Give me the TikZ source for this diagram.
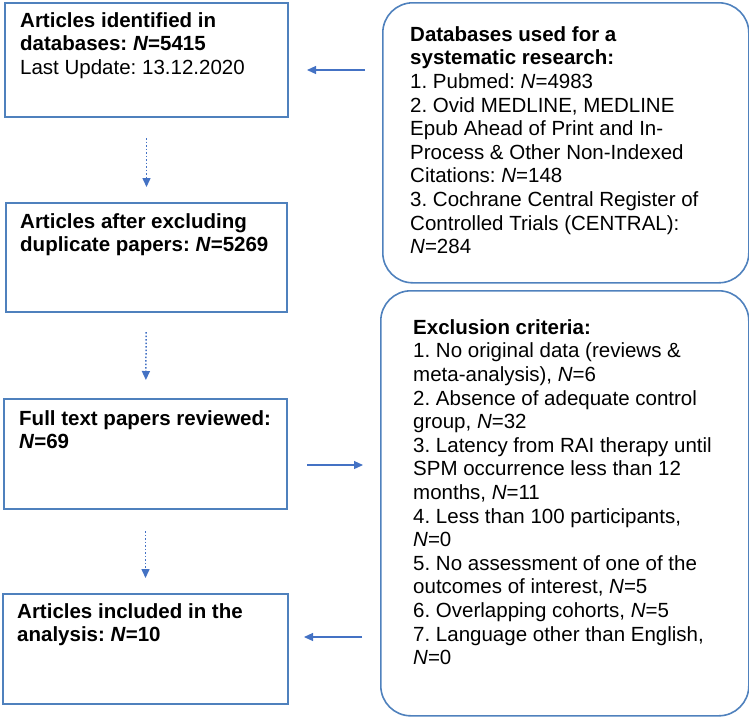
\documentclass[tikz,border=0pt]{standalone}
\usepackage{fontspec}
\setmainfont{Liberation Sans}
\usetikzlibrary{arrows.meta}
\definecolor{boxblue}{RGB}{79,129,189}
\definecolor{arrblue}{RGB}{68,114,196}
\newcommand{\firstl}{\rule{0pt}{16pt}}
\frenchspacing
\tikzset{
  sqbox/.style={draw=boxblue, line width=2pt, rectangle, anchor=north west, inner sep=0pt},
  rbox/.style={draw=boxblue, line width=1.6pt, rectangle, rounded corners=30pt, anchor=north west, inner sep=0pt},
  txt/.style={anchor=north west, align=left, inner sep=0pt, text=black, font=\fontsize{20.5pt}{23.6pt}\selectfont\frenchspacing},
  varrow/.style={draw=arrblue, line width=1.5pt, dotted, -{Triangle[length=9pt,width=8pt]}},
  harrow/.style={draw=arrblue, line width=1.2pt, -{Triangle[length=9pt,width=8pt]}},
}
\begin{document}
\begin{tikzpicture}[x=1pt,y=-1pt]
\useasboundingbox (0,0) rectangle (749,716);
% left boxes
\node[sqbox, minimum width=283pt, minimum height=114pt] (b1) at (4,2) {};
\node[sqbox, minimum width=281pt, minimum height=109pt] (b2) at (5,202) {};
\node[sqbox, minimum width=283pt, minimum height=110pt] (b3) at (3,398) {};
\node[sqbox, minimum width=285pt, minimum height=110pt] (b4) at (2,593) {};
% right boxes
\node[rbox, minimum width=366pt, minimum height=280pt] (r1) at (382,2) {};
\node[rbox, minimum width=368pt, minimum height=425pt] (r2) at (380,290) {};
% texts (top = first baseline - 16)
\node[txt] (t1) at (20,11) {\firstl\textbf{Articles identified in}\\\textbf{databases: \textit{N}=5415}\\Last Update: 13.12.2020};
\node[txt] (t2) at (20,212) {\firstl\textbf{Articles after excluding}\\\textbf{duplicate papers: \textit{N}=5269}};
\node[txt] (t3) at (19,409) {\firstl\textbf{Full text papers reviewed:}\\\textbf{\textit{N}=69}};
\node[txt] (t4) at (17,602) {\firstl\textbf{Articles included in the}\\\textbf{analysis: \textit{N}=10}};
\node[txt] (t5) at (410,25) {\firstl\textbf{Databases used for a}\\\textbf{systematic research:}\\1. Pubmed: \textit{N}=4983\\2. Ovid MEDLINE, MEDLINE\\Epub Ahead of Print and In-\\Process \& Other Non-Indexed\\Citations: \textit{N}=148\\3. Cochrane Central Register of\\Controlled Trials (CENTRAL):\\\textit{N}=284};
\node[txt] (t6) at (413,318) {\firstl\textbf{Exclusion criteria:}\\1. No original data (reviews \&\\meta-analysis), \textit{N}=6\\2. Absence of adequate control\\group, \textit{N}=32\\3. Latency from RAI therapy until\\SPM occurrence less than 12\\months, \textit{N}=11\\4. Less than 100 participants,\\\textit{N}=0\\5. No assessment of one of the\\outcomes of interest, \textit{N}=5\\6. Overlapping cohorts, \textit{N}=5\\7. Language other than English,\\\textit{N}=0};
% arrows
\draw[varrow, shorten <=20pt, shorten >=15pt] (b1) -- (b2);
\draw[varrow, shorten <=19pt, shorten >=18pt] (b2) -- (b3);
\draw[varrow, shorten <=21pt, shorten >=15pt] (b3) -- (b4);
\coordinate (y1) at (0,70);
\coordinate (y2) at (0,465);
\coordinate (y3) at (0,637);
\draw[harrow, shorten <=17pt, shorten >=18pt] (r1.west |- y1) -- (b1.east |- y1);
\draw[harrow, shorten <=19pt, shorten >=17pt] (b3.east |- y2) -- (r2.west |- y2);
\draw[harrow, shorten <=18pt, shorten >=15pt] (r2.west |- y3) -- (b4.east |- y3);
\end{tikzpicture}
\end{document}
